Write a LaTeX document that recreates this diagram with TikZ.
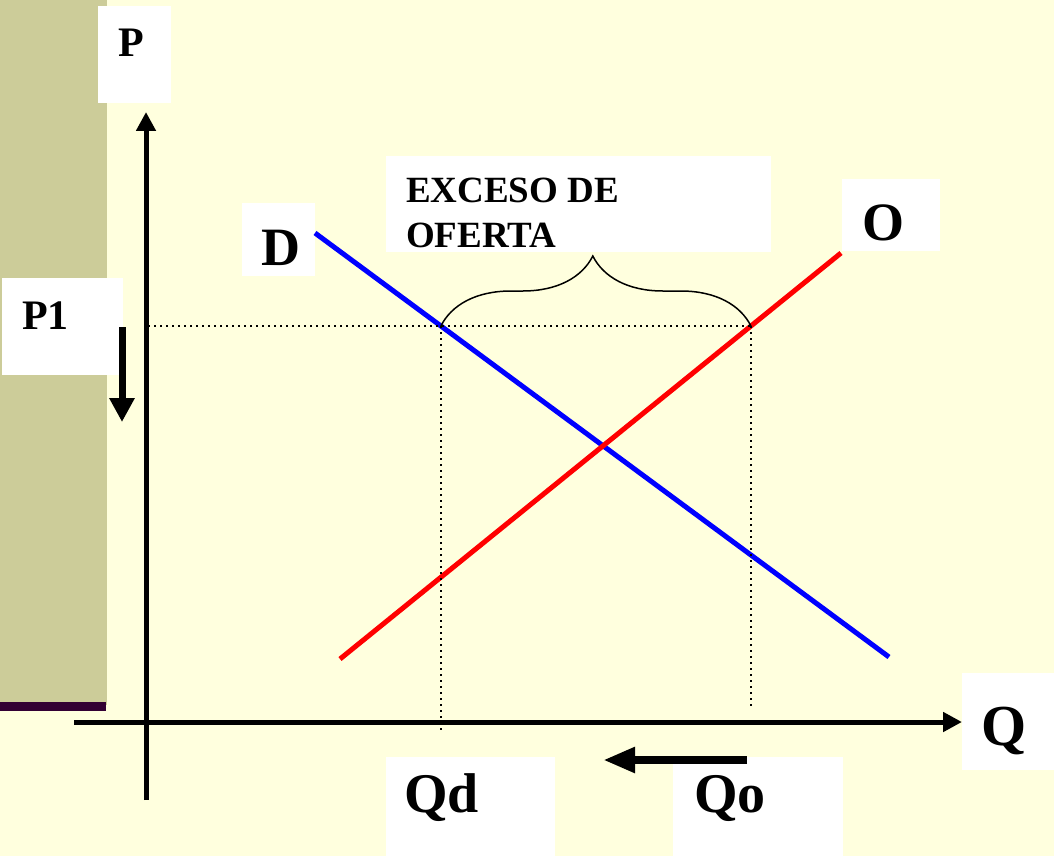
\documentclass[tikz,border=0pt]{standalone}
\usepackage{fontspec}
\setmainfont{Liberation Serif}
\usetikzlibrary{arrows.meta}
\usetikzlibrary{decorations.pathreplacing}
\usetikzlibrary{intersections}

\definecolor{bgyellow}{HTML}{FFFFDE}
\definecolor{stripolive}{HTML}{CCCC99}
\definecolor{stripline}{HTML}{330033}

\tikzset{
  lbl/.style={font=\bfseries\fontsize{#1}{#1}\selectfont, inner sep=0pt, anchor=base west},
  axis/.style={line width=5pt, -{Triangle[length=19pt,width=19pt]}},
  curve/.style={line width=5pt},
  guide/.style={line width=1.5pt, dash pattern=on 1.5pt off 4.5pt},
  shift arrow/.style={-{Triangle[length=#1,width=24pt]}}
}

\begin{document}
\begin{tikzpicture}[x=1pt,y=-1pt]
        \useasboundingbox (0,0) rectangle (1054,856);

        % Background
        \fill[bgyellow] (0,0) rectangle (1054,856);
        \fill[stripolive] (0,0) rectangle (107,705);
        \fill[stripline] (0,702) rectangle (106,711);

        % Label boxes
        \fill[white] (98,6) rectangle (171,103);
        \fill[white] (2,278) rectangle (123,375);
        \fill[white] (242,203) rectangle (315,276);
        \fill[white] (386,156) rectangle (771,252);
        \fill[white] (842,179) rectangle (940,251);
        \fill[white] (962,673) rectangle (1054,770);
        \fill[white] (386,757) rectangle (555,856);
        \fill[white] (673,757) rectangle (843,856);

        % Axes
        \coordinate (ybot) at (146,800);
        \coordinate (ytop) at (146,112);
        \coordinate (xleft) at (74,722);
        \coordinate (xright) at (962,722);
        \draw[axis] (ybot) -- (ytop);
        \draw[axis] (xleft) -- (xright);

        % Demand and supply
        \coordinate (dstart) at (315,233);
        \coordinate (dend) at (889,657);
        \coordinate (sstart) at (340,659);
        \coordinate (send) at (841,253);
        \draw[curve, blue, name path=demand] (dstart) -- (dend);
        \draw[curve, red, name path=supply] (sstart) -- (send);

        % Price P1 and quantities
        \path[name path=pone] (148,326) -- (900,326);
        \path[name intersections={of=pone and demand, by=qdpt}];
        \path[name intersections={of=pone and supply, by=qopt}];
        \coordinate (pleft) at (148,326);
        \draw[guide] (pleft) -- (qopt);
        \draw[guide] (qdpt) -- (qdpt |- 0,730);
        \draw[guide] (qopt) -- (qopt |- 0,708);

        % Excess brace
        \draw[line width=1.5pt, decorate, decoration={brace, amplitude=70pt, aspect=0.49}] (qdpt) -- (qopt);

        % Shift arrows
        \coordinate (pdowna) at (122,327);
        \coordinate (pdownb) at (122,422);
        \coordinate (qlefta) at (747,760);
        \coordinate (qleftb) at (603,760);
        \draw[line width=7pt, shift arrow=24pt] (pdowna) -- (pdownb);
        \draw[line width=8pt, shift arrow=32pt] (qlefta) -- (qleftb);

        % Labels
        \node[lbl=42] (plabel) at (118,57) {P};
        \node[lbl=42] (ponelabel) at (22,329) {P1};
        \node[lbl=54] (dlabel) at (261,265) {D};
        \node[lbl=54] (olabel) at (862,240) {O};
        \node[lbl=58] (qlabel) at (981,745) {Q};
        \node[lbl=56] (qdlabel) at (404,812) {Qd};
        \node[lbl=56] (qolabel) at (694,812) {Qo};
        \node[lbl=37, font=\bfseries\fontsize{37}{45}\selectfont, align=left] (excess) at (406,247)
          {EXCESO DE\\OFERTA};
      \end{tikzpicture}
\end{document}
